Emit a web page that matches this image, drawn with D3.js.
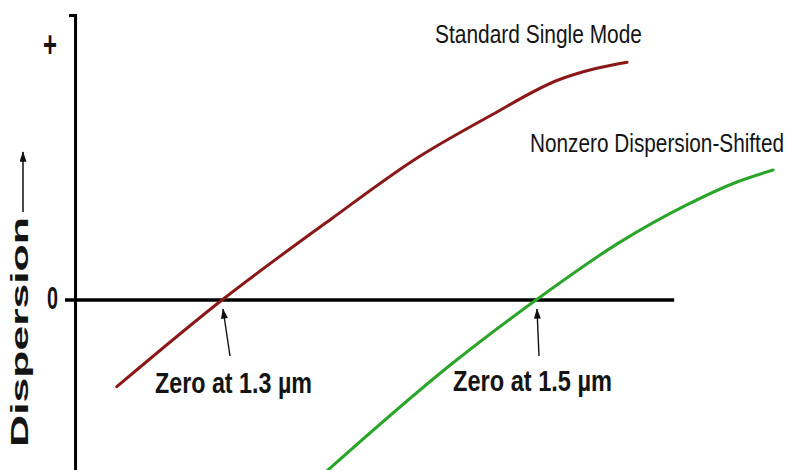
<!DOCTYPE html>
<html>
<head>
<meta charset="utf-8">
<script src="https://cdn.jsdelivr.net/npm/d3@7"></script>
<style>
  html, body { margin: 0; padding: 0; background: #fff; }
  svg { display: block; }
  text { font-family: "Liberation Sans Narrow", "Liberation Sans", Arial, sans-serif; fill: #141414; }
</style>
</head>
<body>
<svg id="chart" width="790" height="470"></svg>
<script>
// Dispersion vs wavelength (µm) for two fibre types, arbitrary dispersion units
const seriesNames = ["Standard Single Mode", "Nonzero Dispersion-Shifted"];
const seriesColors = ["#8a1818", "#2aa52a"];

const ssmfWavelength = [1.233, 1.30, 1.37, 1.425, 1.47, 1.515, 1.538, 1.558];
const ssmfDispersion = [-3.4, 0, 3.2, 5.6, 7.2, 8.65, 9.08, 9.33];

const nzdsfWavelength = [1.366, 1.447, 1.50, 1.5535, 1.596, 1.628, 1.651];
const nzdsfDispersion = [-6.75, -2.47, 0, 2.27, 3.73, 4.63, 5.10];

const zeroWavelengths = [1.3, 1.5];
const zeroLabels = ["Zero at 1.3 µm", "Zero at 1.5 µm"];

const yTickValues = [10, 0];
const yTickLabels = ["+", "0"];
const yTitle = "Dispersion";

const series = [
  ssmfWavelength.map((w, i) => ({ w, d: ssmfDispersion[i] })),
  nzdsfWavelength.map((w, i) => ({ w, d: nzdsfDispersion[i] }))
];

const svg = d3.select("#chart");

const x = d3.scaleLinear().domain([1.2, 1.66]).range([65, 787.2]);
const y = d3.scaleLinear().domain([-7.06, 11.18]).range([480, 15]);

const axisWavelength = 1.2064;   // where the vertical axis stands
const zeroLineEnd = 1.588;

// marker for the pointer arrows
const defs = svg.append("defs");
defs.append("marker")
  .attr("id", "head")
  .attr("viewBox", "0 0 12 8")
  .attr("refX", 11).attr("refY", 4)
  .attr("markerWidth", 12).attr("markerHeight", 7)
  .attr("markerUnits", "userSpaceOnUse")
  .attr("orient", "auto")
  .append("path").attr("d", "M0,0L12,4L0,8Z").attr("fill", "#111");

// zero dispersion line
svg.append("line")
  .attr("x1", x(1.2)).attr("x2", x(zeroLineEnd))
  .attr("y1", y(0)).attr("y2", y(0))
  .attr("stroke", "#000").attr("stroke-width", 3.5);

// vertical axis
const yAxis = d3.axisLeft(y)
  .tickValues(yTickValues)
  .tickSize(0)
  .tickSizeOuter(6)
  .tickPadding(18)
  .tickFormat((d, i) => yTickLabels[i]);

const gy = svg.append("g")
  .attr("transform", `translate(${x(axisWavelength)},0)`)
  .call(yAxis);
gy.select(".domain").attr("stroke", "#000").attr("stroke-width", 3).attr("fill", "none");
gy.selectAll(".tick line").remove();
gy.selectAll(".tick text")
  .attr("font-family", null)
  .attr("font-weight", "bold")
  .attr("fill", "#141414")
  .each(function (d) {
    const t = d3.select(this);
    if (d === 0) {
      t.attr("font-size", 31).attr("dy", "0.27em").attr("x", -17)
       .attr("textLength", 11).attr("lengthAdjust", "spacingAndGlyphs");
    } else {
      t.attr("font-size", 36).attr("dy", "0.33em").attr("x", -18)
       .attr("textLength", 14).attr("lengthAdjust", "spacingAndGlyphs");
    }
  });

// axis title with upward arrow
const title = svg.append("g").attr("transform", "translate(28,447) rotate(-90)");
title.append("text")
  .attr("font-family", "'Liberation Sans', Arial, sans-serif")
  .attr("font-weight", "bold")
  .attr("font-size", 23)
  .attr("textLength", 230)
  .attr("lengthAdjust", "spacingAndGlyphs")
  .text(yTitle);
svg.append("line")
  .attr("x1", 23).attr("x2", 23)
  .attr("y1", 212).attr("y2", 152)
  .attr("stroke", "#111").attr("stroke-width", 1.5)
  .attr("marker-end", "url(#head)");

// dispersion curves
const line = d3.line()
  .x(p => x(p.w))
  .y(p => y(p.d))
  .curve(d3.curveMonotoneX);

svg.selectAll("path.curve")
  .data(series)
  .join("path")
  .attr("class", "curve")
  .attr("d", line)
  .attr("fill", "none")
  .attr("stroke", (d, i) => seriesColors[i])
  .attr("stroke-width", 3)
  .attr("stroke-linecap", "round");

// series names (tall, condensed lettering)
const nameLayout = [
  { x: 435, y: 43, len: 207 },
  { x: 530, y: 152, len: 254 }
];
svg.selectAll("text.series-name")
  .data(seriesNames)
  .join("text")
  .attr("class", "series-name")
  .attr("transform", (d, i) => `translate(${nameLayout[i].x},${nameLayout[i].y}) scale(1,1.22)`)
  .attr("font-family", "'Liberation Sans', Arial, sans-serif")
  .attr("font-size", 20.5)
  .attr("fill", "#222")
  .attr("textLength", (d, i) => nameLayout[i].len)
  .attr("lengthAdjust", "spacingAndGlyphs")
  .text(d => d);

// zero-crossing pointers and labels
const pointerLayout = [
  { dxTail: 8, dxTip: 1, textX: 155, textY: 393, len: 157 },
  { dxTail: 3, dxTip: 1, textX: 453, textY: 391, len: 159 }
];
zeroWavelengths.forEach((w, i) => {
  const L = pointerLayout[i];
  svg.append("line")
    .attr("x1", x(w) + L.dxTail).attr("y1", y(0) + 56)
    .attr("x2", x(w) + L.dxTip).attr("y2", y(0) + 9)
    .attr("stroke", "#111").attr("stroke-width", 1.4)
    .attr("marker-end", "url(#head)");
  svg.append("text")
    .attr("x", L.textX).attr("y", L.textY)
    .attr("font-weight", "bold")
    .attr("font-size", 30)
    .attr("textLength", L.len)
    .attr("lengthAdjust", "spacingAndGlyphs")
    .text(zeroLabels[i]);
});
</script>
</body>
</html>
